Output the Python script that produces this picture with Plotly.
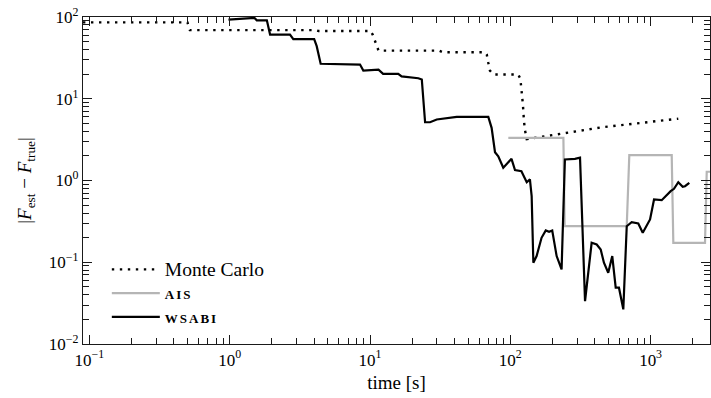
import plotly.graph_objects as go

# ---- data -------------------------------------------------------------
mc_time = [0.09, 0.50, 0.52, 4.1, 4.3, 10.1, 10.45, 10.85, 11.5, 31.0, 33.0,
           66.0, 68.0, 69.7, 71.6, 75.7, 114.0, 118.0, 121.0, 123.0, 125.0,
           127.0, 131.0, 437.0, 1575.0]
mc_err = [86, 86, 69, 69, 67.5, 67.5, 61, 50, 38.8, 38.8, 37.0,
          37.0, 34.7, 27.5, 22.1, 19.8, 19.8, 17.5, 12.0, 8.5, 5.5,
          4.2, 3.2, 4.45, 5.7]

ais_time = [96.8, 239, 244, 676, 705, 1414, 1452, 2443, 2512, 2800]
ais_err = [3.33, 3.33, 0.276, 0.276, 2.04, 2.04, 0.173, 0.173, 1.28, 1.28]

wsabi_time = [0.98, 1.32, 1.50, 1.56, 1.84, 1.94, 2.69, 2.84, 4.0, 4.17, 4.45,
              8.49, 8.96, 11.5, 12.4, 15.9, 16.8, 22.1, 23.4, 24.7, 26.8,
              29.9, 35.2, 41.5, 57.6, 67.9, 69.7, 73.6, 77.8, 82.1, 89.1,
              102, 108, 120, 131, 138, 142, 146, 154, 167, 179, 189, 199,
              214, 232, 245, 289, 314, 341, 380, 413, 441, 465, 499, 533,
              564, 595, 639, 676, 733, 817, 879, 991, 1058, 1200, 1390,
              1468, 1575, 1694, 1759, 1888]
wsabi_err = [93, 97.5, 97.5, 91, 91, 61, 61, 53.5, 53.5, 44, 26.8,
             26.2, 22.1, 22.7, 20.2, 20.2, 18.8, 17.8, 17.2, 5.16, 5.16,
             5.57, 5.84, 6.01, 6.01, 6.11, 6.0, 4.41, 2.22, 1.98, 1.43,
             1.84, 1.34, 1.30, 0.953, 1.03, 0.643, 0.0986, 0.119, 0.199,
             0.245, 0.236, 0.245, 0.119, 0.0817, 1.81, 1.84, 1.90, 0.0334,
             0.173, 0.165, 0.143, 0.0986, 0.0744, 0.119, 0.0488, 0.0488,
             0.0265, 0.276, 0.309, 0.298, 0.230, 0.334, 0.586, 0.574,
             0.740, 0.792, 0.953, 0.837, 0.851, 0.937]

x_tickvals = [0.1, 1, 10, 100, 1000]
x_ticktext = ["10<sup>−1</sup>", "10<sup>0</sup>", "10<sup>1</sup>",
              "10<sup>2</sup>", "10<sup>3</sup>"]
y_tickvals = [0.01, 0.1, 1, 10, 100]
y_ticktext = ["10<sup>−2</sup>", "10<sup>−1</sup>", "10<sup>0</sup>",
              "10<sup>1</sup>", "10<sup>2</sup>"]

SERIF = "Liberation Serif, Times New Roman, serif"
AXIS = "#1a1a1a"
GRAY = "#b5b5b5"

def minor_ticks(lo, hi):
    vals = []
    for e in range(lo, hi):
        for m in range(2, 10):
            vals.append(m * 10 ** e)
    return vals

smallcaps = '<span style="font-size:13px;font-weight:bold;letter-spacing:2px">{}</span>'

fig = go.Figure()
fig.add_trace(go.Scatter(
    x=mc_time, y=mc_err, mode="lines", name='<span style="font-size:19.5px">Monte Carlo</span>',
    line=dict(color="black", width=2.4, dash="2.4px,5.6px"),
))
fig.add_trace(go.Scatter(
    x=ais_time, y=ais_err, mode="lines", name=smallcaps.format("AIS"),
    line=dict(color=GRAY, width=2.2),
))
fig.add_trace(go.Scatter(
    x=wsabi_time, y=wsabi_err, mode="lines", name=smallcaps.format("WSABI"),
    line=dict(color="black", width=2.2),
))

axis_common = dict(
    type="log", showline=True, linecolor=AXIS, linewidth=1.2, mirror="allticks",
    ticks="inside", ticklen=9, tickwidth=1, tickcolor=AXIS, showgrid=False,
    zeroline=False, tickfont=dict(family=SERIF, size=17, color="black"),
)

fig.update_xaxes(
    range=[-1.0456, 3.4234], tickmode="array", tickvals=x_tickvals, ticktext=x_ticktext,
    minor=dict(ticks="inside", ticklen=6, tickwidth=0.8, tickcolor=AXIS,
               tickmode="array", tickvals=minor_ticks(-2, 4)),
    title=dict(text="time [s]", font=dict(family=SERIF, size=19, color="black"), standoff=7),
    **axis_common,
)
fig.update_yaxes(
    range=[-2, 2], tickmode="array", tickvals=y_tickvals, ticktext=y_ticktext,
    minor=dict(ticks="inside", ticklen=6, tickwidth=0.8, tickcolor=AXIS,
               tickmode="array", tickvals=minor_ticks(-2, 2)),
    title=dict(text="|<i>F</i><sub>est</sub> − <i>F</i><sub>true</sub>|",
               font=dict(family=SERIF, size=19, color="black"), standoff=12),
    **axis_common,
)

fig.update_layout(
    width=711, height=398,
    margin=dict(l=83, r=1, t=17, b=54),
    paper_bgcolor="white", plot_bgcolor="white",
    font=dict(family=SERIF, size=16, color="black"),
    legend=dict(
        x=0.038, y=0.28, xanchor="left", yanchor="top",
        bgcolor="rgba(0,0,0,0)", borderwidth=0,
        font=dict(family=SERIF, size=16, color="black"),
        itemwidth=48, tracegroupgap=0,
    ),
)

fig.write_html("out.html")
